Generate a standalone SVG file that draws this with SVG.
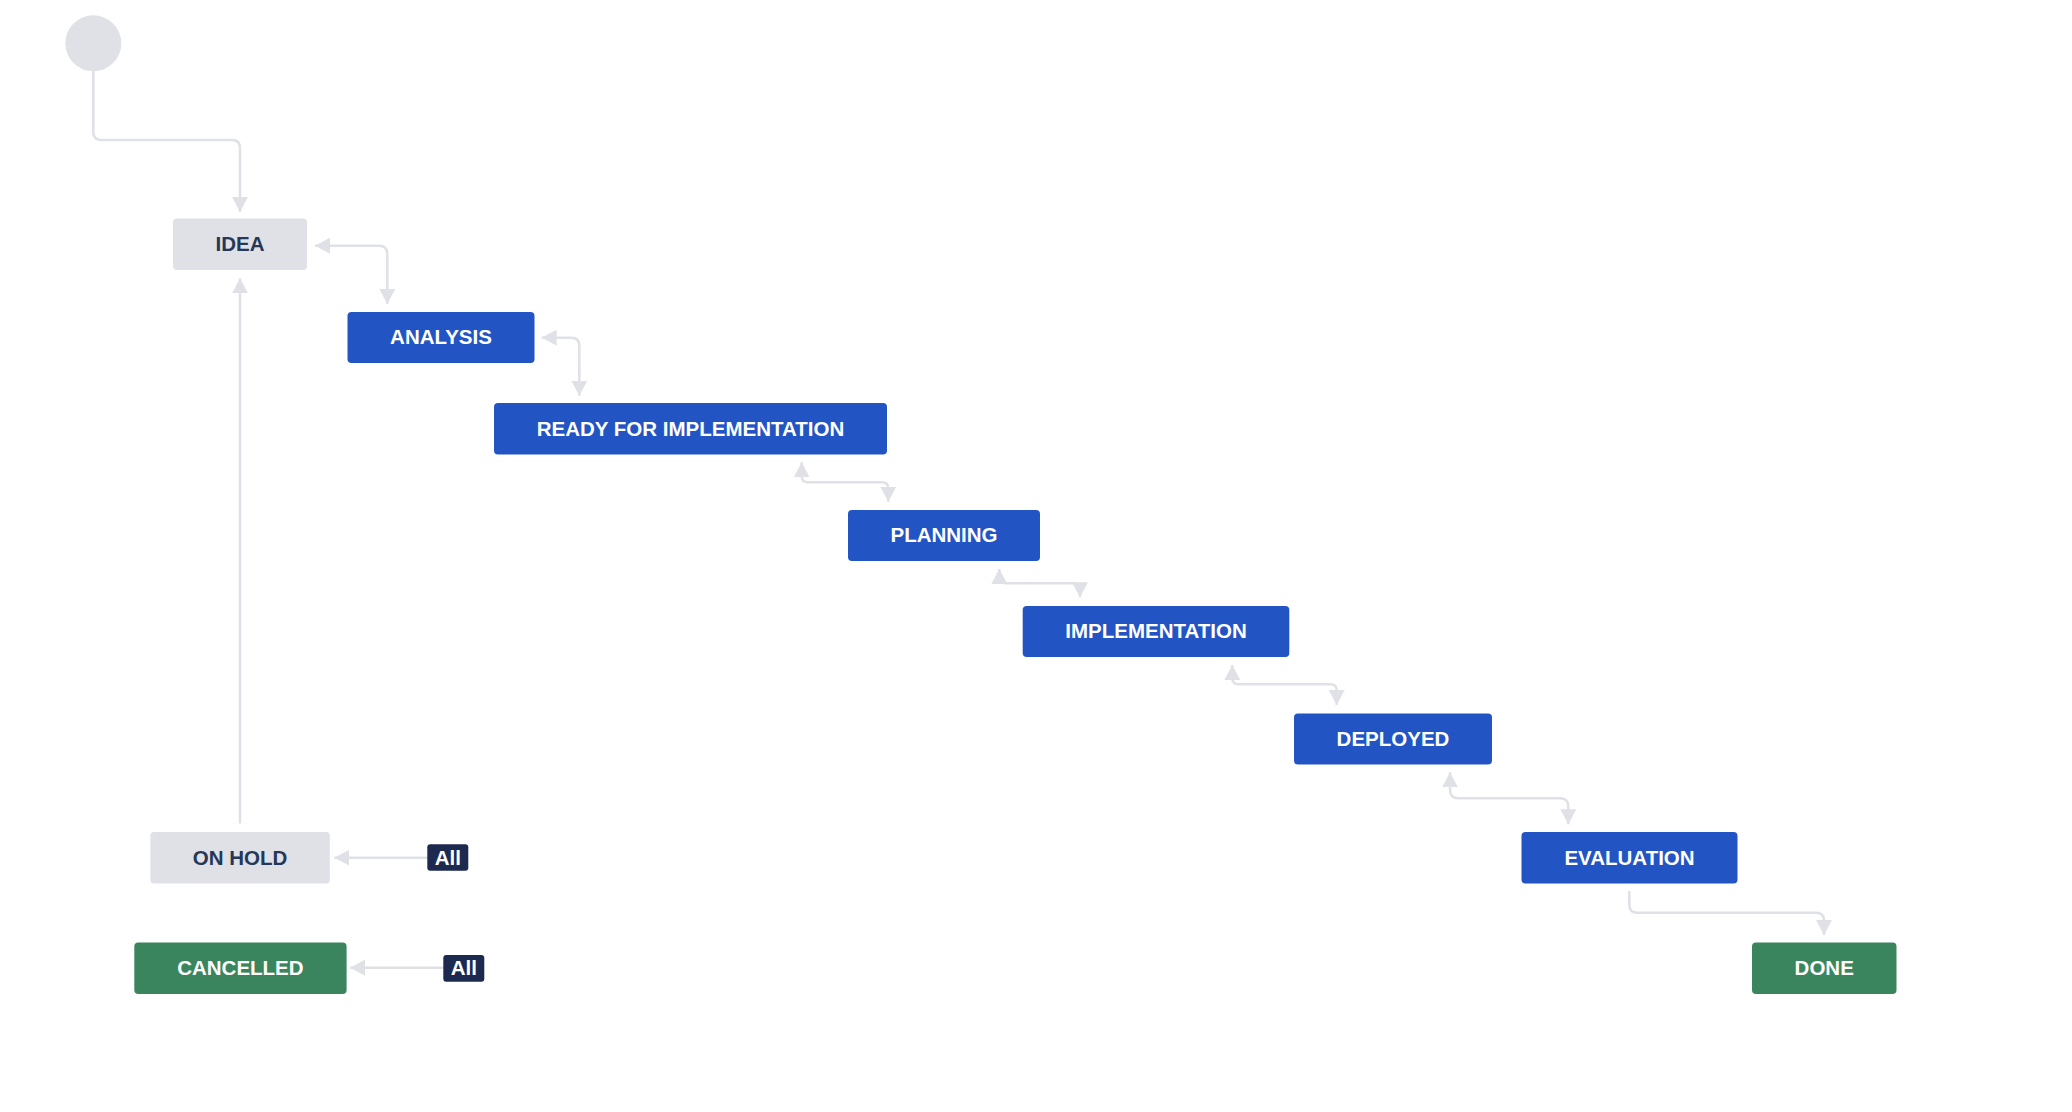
<svg xmlns="http://www.w3.org/2000/svg" width="2072" height="1112" viewBox="0 0 2072 1112">
<style>
.gray{fill:#dfe1e6}
.blue{fill:#2254c4}
.green{fill:#3b855e}
.badge{fill:#1d2a4f}
.t{font-family:"Liberation Sans",Arial,sans-serif;font-weight:bold;font-size:20.5px;text-anchor:middle}
.tw{fill:#ffffff}
.td{fill:#253858}
.c{fill:none;stroke:#dfe1e6;stroke-width:2.5}
.end{marker-end:url(#ah)}
.both{marker-start:url(#ah);marker-end:url(#ah)}
</style>
<defs>
<marker id="ah" markerUnits="userSpaceOnUse" viewBox="0 0 15 16" refX="15" refY="8" markerWidth="15" markerHeight="16" orient="auto-start-reverse">
<path d="M0,0 L15,8 L0,16 Z" fill="#dfe1e6"/>
</marker>
</defs>
<rect width="2072" height="1112" fill="#ffffff"/>
<g id="connectors">
<path class="c end" d="M93.3,71 V132 Q93.3,140 101.3,140 H232 Q240,140 240,148 V212"/>
<path class="c both" d="M315,245.7 H379 Q387.3,245.7 387.3,254 V304"/>
<path class="c both" d="M541.7,337.7 H571.3 Q579.3,337.7 579.3,345.7 V395.7"/>
<path class="c both" d="M801.7,462.3 V476 Q801.7,482.3 808,482.3 H882 Q888.3,482.3 888.3,488.6 V501.7"/>
<path class="c both" d="M999.3,569 V577 Q999.3,583.3 1005.6,583.3 H1073.7 Q1080,583.3 1080,589.6 V597.3"/>
<path class="c both" d="M1232.3,665 V678 Q1232.3,684.3 1238.6,684.3 H1330.4 Q1336.7,684.3 1336.7,690.6 V705"/>
<path class="c both" d="M1450,772.3 V790 Q1450,798.3 1458.3,798.3 H1560 Q1568.3,798.3 1568.3,806.6 V824.3"/>
<path class="c end" d="M1629.3,891 V904.7 Q1629.3,912.7 1637.3,912.7 H1816 Q1824,912.7 1824,920.7 V935"/>
<path class="c end" d="M240,823.5 V278.3"/>
<path class="c end" d="M428,857.7 H334.3"/>
<path class="c end" d="M444,967.7 H350"/>
</g>
<g id="start"><circle cx="93.3" cy="43.3" r="28" fill="#dfe1e6"/></g>
<g id="idea"><rect class="gray" rx="4" x="173" y="218.5" width="134" height="51.5"/><text class="t td" x="240" y="251">IDEA</text></g>
<g id="analysis"><rect class="blue" rx="4" x="347.5" y="312" width="187" height="51"/><text class="t tw" x="441" y="344.2">ANALYSIS</text></g>
<g id="ready"><rect class="blue" rx="4" x="494" y="403" width="393" height="51.5"/><text class="t tw" x="690.5" y="435.5">READY FOR IMPLEMENTATION</text></g>
<g id="planning"><rect class="blue" rx="4" x="848" y="510" width="192" height="51"/><text class="t tw" x="944" y="542.2">PLANNING</text></g>
<g id="implementation"><rect class="blue" rx="4" x="1022.7" y="606" width="266.6" height="51"/><text class="t tw" x="1156" y="638.2">IMPLEMENTATION</text></g>
<g id="deployed"><rect class="blue" rx="4" x="1294" y="713.5" width="198" height="51"/><text class="t tw" x="1393" y="745.7">DEPLOYED</text></g>
<g id="evaluation"><rect class="blue" rx="4" x="1521.5" y="832" width="216" height="51.5"/><text class="t tw" x="1629.5" y="864.5">EVALUATION</text></g>
<g id="done"><rect class="green" rx="4" x="1752" y="942.5" width="144.5" height="51.5"/><text class="t tw" x="1824.2" y="975">DONE</text></g>
<g id="onhold"><rect class="gray" rx="4" x="150.3" y="832" width="179.5" height="51.5"/><text class="t td" x="240" y="864.5">ON HOLD</text></g>
<g id="cancelled"><rect class="green" rx="4" x="134.3" y="942.5" width="212.3" height="51.5"/><text class="t tw" x="240.4" y="975">CANCELLED</text></g>
<g id="all1"><rect x="427.3" y="844.3" width="41" height="26.4" rx="3" class="badge"/><text class="t tw" x="447.8" y="864.5">All</text></g>
<g id="all2"><rect x="443.3" y="955" width="41" height="26.7" rx="3" class="badge"/><text class="t tw" x="463.8" y="975.3">All</text></g>
</svg>
